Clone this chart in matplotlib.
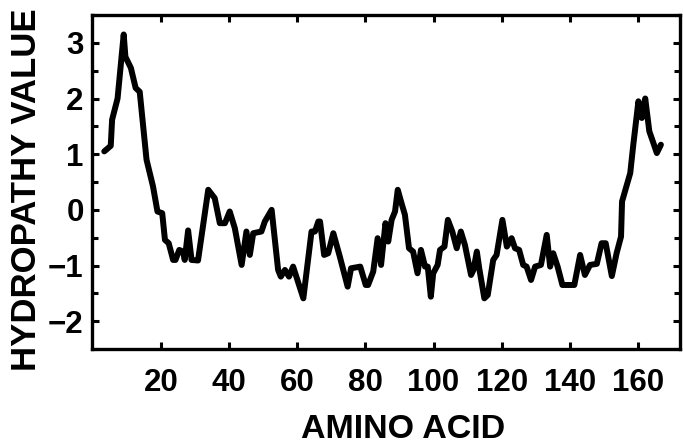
import matplotlib
matplotlib.use("Agg")
import matplotlib.pyplot as plt
from matplotlib.ticker import MultipleLocator, FixedLocator

residue = [3.4, 5.3, 5.7, 7.3, 9.1, 9.6, 11.2, 12.6, 13.8, 15.8, 17.7, 19.0, 20.4, 21.2, 22.3,
           23.6, 24.3, 25.4, 26.5, 27.0, 28.0, 29.0, 30.9, 33.9, 35.8, 37.3, 38.8, 40.2, 41.7,
           43.7, 45.1, 46.1, 47.1, 49.5, 50.5, 52.5, 54.4, 55.2, 56.4, 57.6, 58.8, 61.8, 64.2,
           65.2, 66.2, 66.7, 67.9, 69.1, 70.6, 72.5, 74.8, 75.8, 78.5, 80.1, 80.8, 82.3, 83.6,
           84.6, 85.9, 86.7, 87.7, 88.7, 89.5, 90.6, 91.6, 92.8, 94.0, 95.3, 96.3, 97.5, 98.3,
           99.2, 99.9, 101.2, 101.9, 103.2, 104.2, 105.5, 106.8, 108.0, 109.2, 111.0, 111.7,
           112.7, 113.4, 114.9, 115.9, 117.5, 118.5, 120.2, 121.5, 122.9, 123.9, 125.1, 126.3,
           127.3, 128.6, 129.8, 131.5, 133.2, 134.2, 135.1, 136.4, 137.8, 141.3, 143.0, 144.4,
           145.9, 147.9, 149.3, 150.5, 152.3, 153.7, 155.0, 155.3, 157.7, 158.6, 160.1, 161.1,
           162.1, 163.3, 164.5, 165.5, 166.7]
hydropathy = [1.05, 1.15, 1.62, 2.0, 3.15, 2.75, 2.55, 2.19, 2.12, 0.9, 0.42, -0.03, -0.06, -0.54, -0.6,
              -0.9, -0.9, -0.72, -0.75, -0.9, -0.37, -0.9, -0.91, 0.36, 0.21, -0.24, -0.24, -0.03, -0.33,
              -0.99, -0.39, -0.81, -0.42, -0.39, -0.21, 0.0, -1.08, -1.2, -1.08, -1.2, -1.02, -1.59, -0.39,
              -0.39, -0.21, -0.21, -0.81, -0.78, -0.42, -0.84, -1.38, -1.05, -1.02, -1.35, -1.35, -1.11, -0.51,
              -0.99, -0.24, -0.57, -0.18, -0.03, 0.36, 0.12, -0.09, -0.69, -0.75, -1.14, -0.72, -1.02, -1.02,
              -1.56, -1.14, -0.99, -0.72, -0.66, -0.18, -0.39, -0.69, -0.39, -0.63, -1.17, -1.08,
              -0.75, -1.05, -1.59, -1.53, -0.9, -0.81, -0.18, -0.66, -0.51, -0.69, -0.72, -0.99,
              -1.02, -1.26, -1.02, -0.99, -0.45, -1.02, -0.78, -1.02, -1.35, -1.35, -0.81, -1.17,
              -0.99, -0.97, -0.6, -0.6, -1.19, -0.78, -0.48, 0.15, 0.66, 1.17, 1.95, 1.65,
              2.0, 1.41, 1.2, 1.02, 1.17]

x_ticks = [20, 40, 60, 80, 100, 120, 140, 160]
y_ticks = [-2, -1, 0, 1, 2, 3]
y_tick_labels = ["\u22122", "\u22121", "0", "1", "2", "3"]

FONT = ['Liberation Sans', 'DejaVu Sans']

fig = plt.figure(figsize=(6.83, 4.46), dpi=100)
ax = fig.add_axes([92 / 683, 1 - 349 / 446, (680 - 92) / 683, (349 - 15) / 446])

ax.plot(residue, hydropathy, color='black', lw=4.3, solid_joinstyle='round', solid_capstyle='round')

ax.set_xlim(-0.2, 172.3)
ax.set_ylim(-2.5, 3.5)

ax.xaxis.set_major_locator(FixedLocator(x_ticks))
ax.set_xticklabels([str(t) for t in x_ticks], fontfamily=FONT, fontsize=22.5, fontweight='bold')
ax.yaxis.set_major_locator(FixedLocator(y_ticks))
ax.set_yticklabels(y_tick_labels, fontfamily=FONT, fontsize=22.5, fontweight='bold')
ax.yaxis.set_minor_locator(MultipleLocator(0.5))

ax.tick_params(axis='both', which='major', direction='in', length=5, width=2.2,
               top=True, right=True, colors='black')
ax.tick_params(axis='y', which='minor', direction='in', length=4, width=2.2, right=True)
ax.tick_params(axis='x', which='major', pad=14)
ax.tick_params(axis='y', which='major', pad=6)

for s in ax.spines.values():
    s.set_linewidth(2.4)

ax.set_xlabel("AMINO ACID", fontfamily=FONT, fontsize=24.5, fontweight='bold', va='center')
ax.xaxis.set_label_coords(0.529, -0.24)
ax.set_ylabel("HYDROPATHY VALUE", fontfamily=FONT, fontsize=25, fontweight='bold', va='center')
ax.yaxis.set_label_coords(-0.111, 0.476)

fig.savefig("out.png", dpi=100)
